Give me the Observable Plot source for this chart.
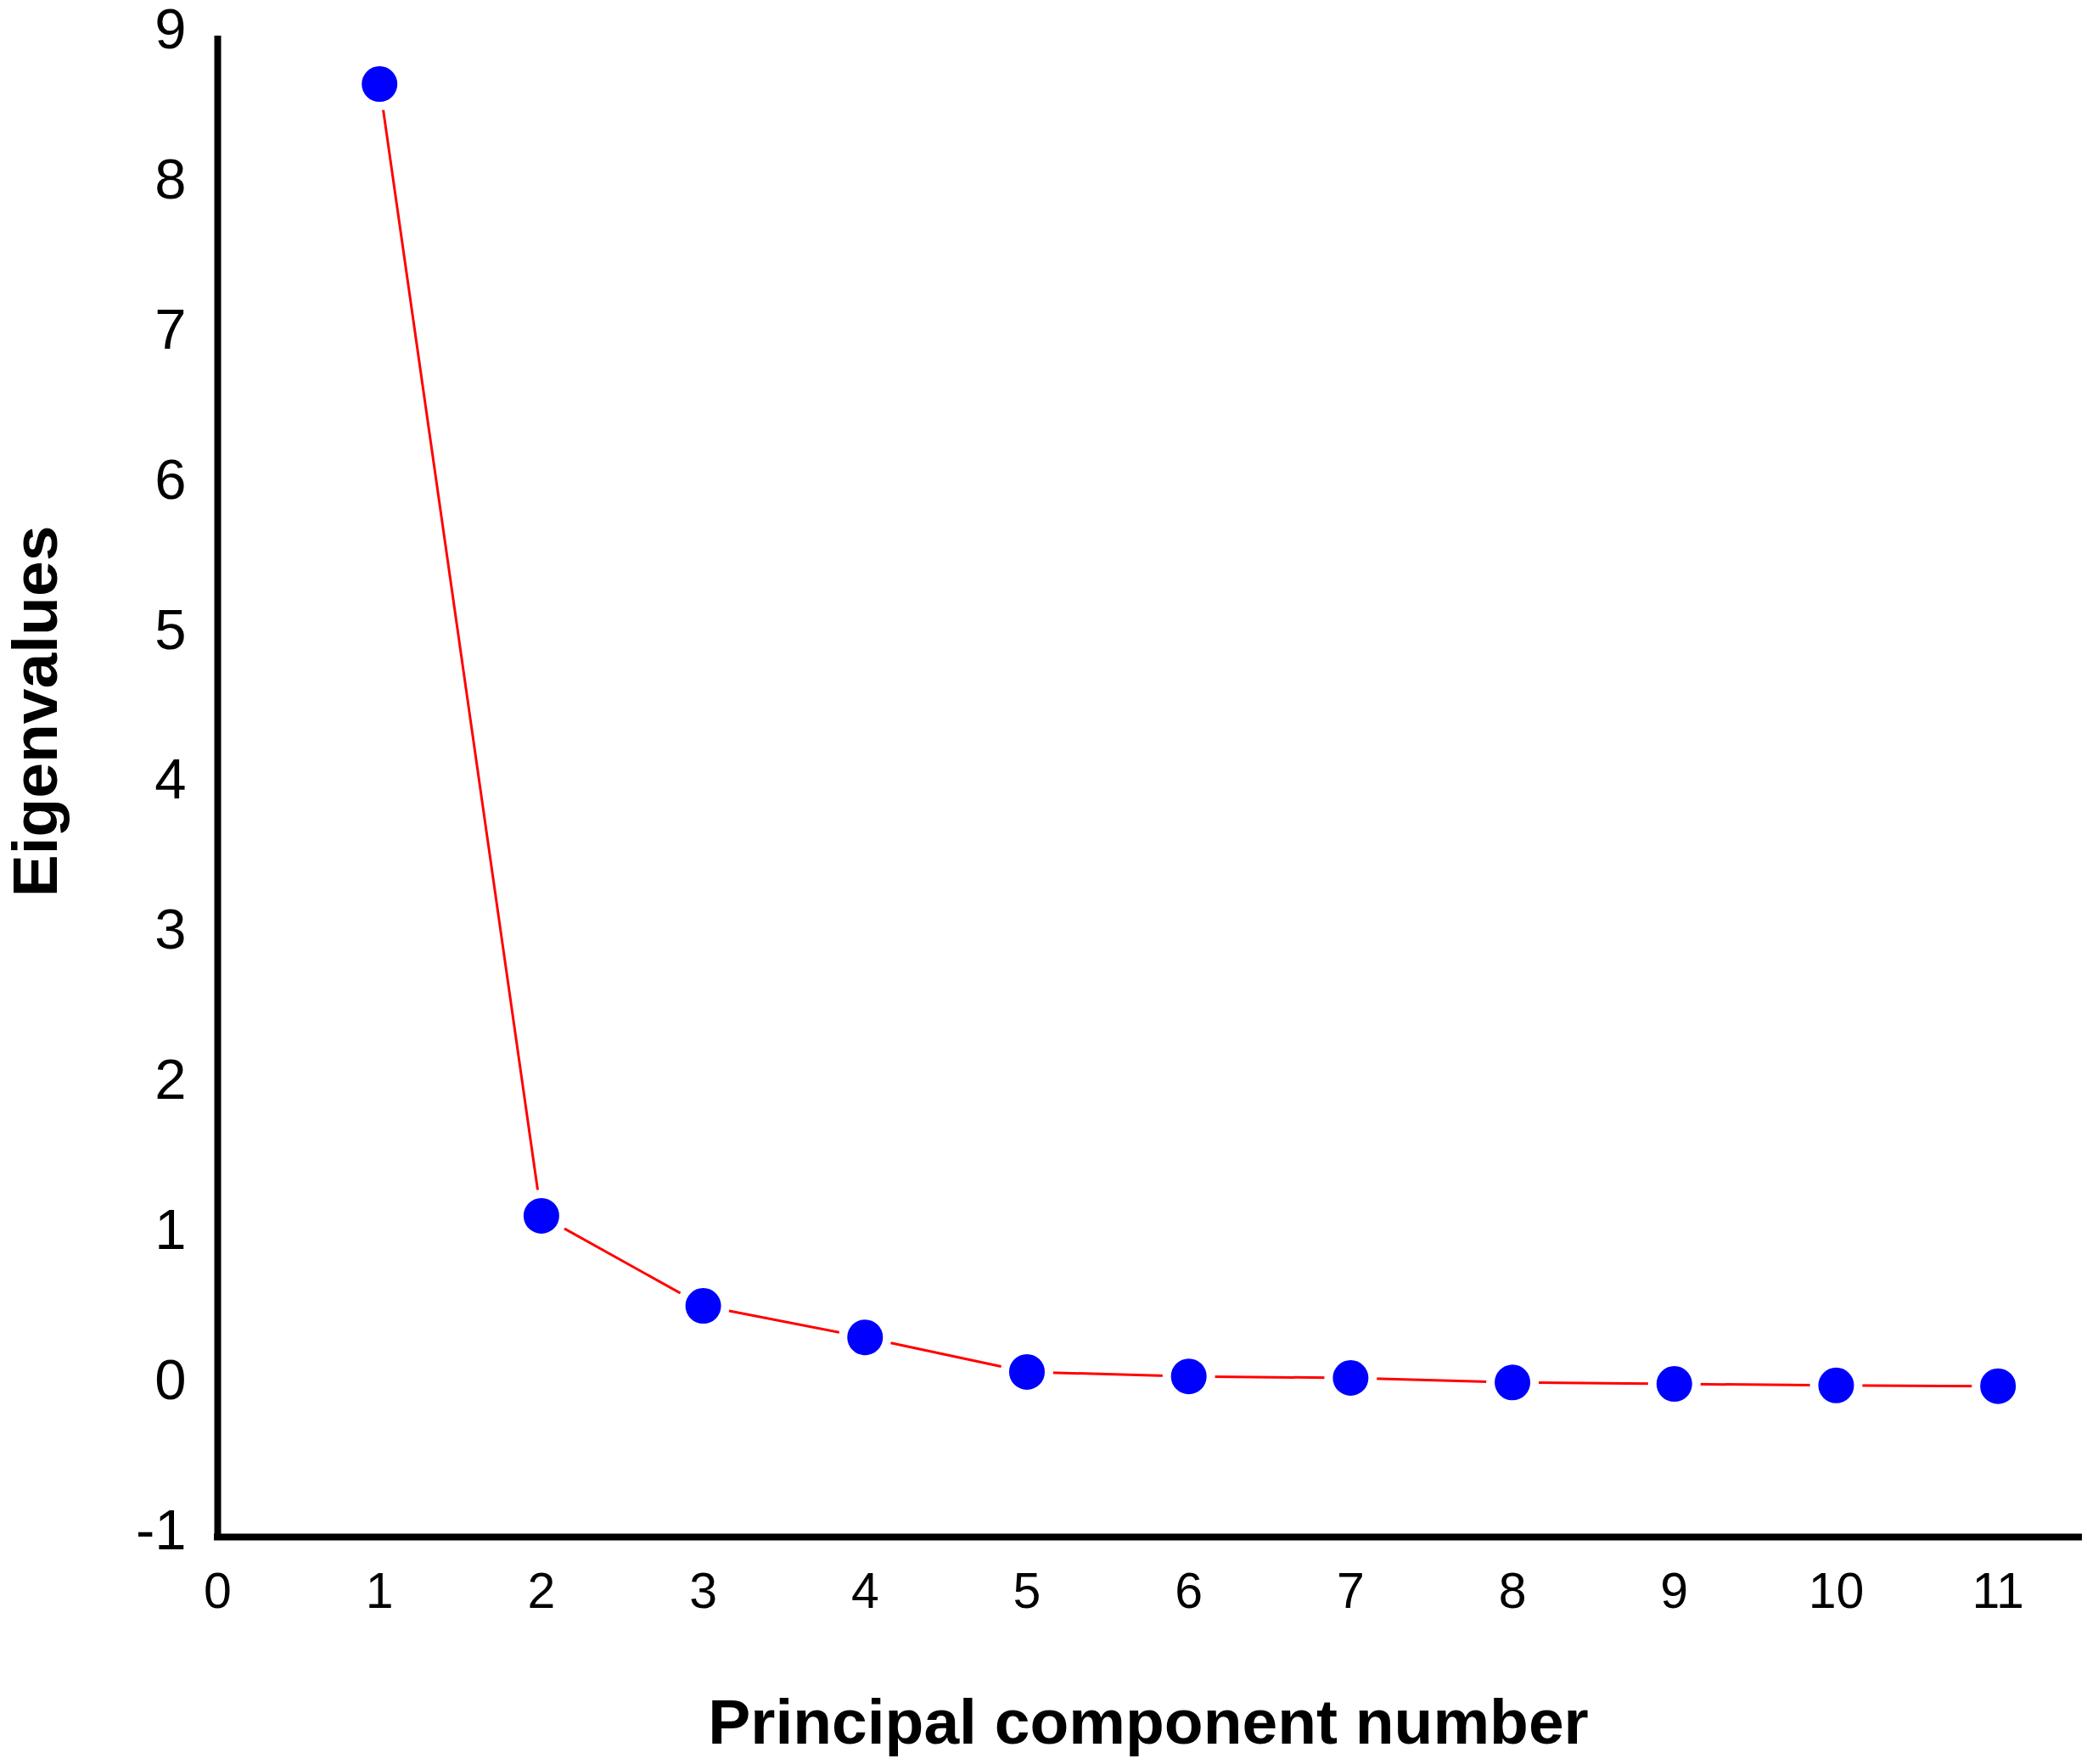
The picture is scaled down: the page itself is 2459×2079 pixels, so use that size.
<!DOCTYPE html>
<html>
<head>
<meta charset="utf-8">
<script src="https://cdn.jsdelivr.net/npm/d3@7"></script>
<script src="https://cdn.jsdelivr.net/npm/@observablehq/plot@0.6"></script>
<style>
  html, body { margin: 0; padding: 0; background: white; overflow: hidden; }
  #chart svg { display: block; overflow: visible; }
</style>
</head>
<body>
<div id="chart"></div>
<script>
const components = [1, 2, 3, 4, 5, 6, 7, 8, 9, 10, 11];
const eigenvalues = [8.68, 1.14, 0.54, 0.33, 0.10, 0.07, 0.06, 0.03, 0.02, 0.01, 0.005];
const xTicks = [0, 1, 2, 3, 4, 5, 6, 7, 8, 9, 10, 11];
const yTicks = [-1, 0, 1, 2, 3, 4, 5, 6, 7, 8, 9];
const xTitle = "Principal component number";
const yTitle = "Eigenvalues";

const data = components.map((c, i) => ({component: c, value: eigenvalues[i]}));

const chart = Plot.plot({
  width: 2459,
  height: 2079,
  marginLeft: 256,
  marginRight: 10,
  marginTop: 42,
  marginBottom: 268,
  x: {domain: [0, 11.5]},
  y: {domain: [-1, 9]},
  style: {fontFamily: "'Liberation Sans', Arial, sans-serif", color: "black", background: "white", overflow: "visible"},
  marks: [
    Plot.axisX(xTicks, {tickSize: 0, tickPadding: 42, fontSize: 59, label: null, tickFormat: d => String(d)}),
    Plot.axisY(yTicks, {tickSize: 0, tickPadding: 37, fontSize: 67, dy: -7, label: null, tickFormat: d => String(d)}),
    Plot.ruleX([0], {stroke: "black", strokeWidth: 8}),
    Plot.ruleY([-1], {x1: 0, x2: 11.5, stroke: "black", strokeWidth: 8, strokeLinecap: "square"}),
    Plot.line(data, {x: "component", y: "value", stroke: "#FF0000", strokeWidth: 3}),
    Plot.dot(data, {x: "component", y: "value", r: 26, fill: "#0000FF", stroke: "white", strokeWidth: 10}),
    Plot.text([yTitle], {text: d => d, frameAnchor: "left", textAnchor: "middle", lineAnchor: "middle", rotate: -90, dx: -214, dy: -88.5, fontSize: 75, fontWeight: "bold", fill: "black"}),
    Plot.text([xTitle], {text: d => d, frameAnchor: "bottom", textAnchor: "middle", lineAnchor: "middle", dy: 219, fontSize: 75, fontWeight: "bold", fill: "black"})
  ]
});
document.getElementById("chart").append(chart);
</script>
</body>
</html>
